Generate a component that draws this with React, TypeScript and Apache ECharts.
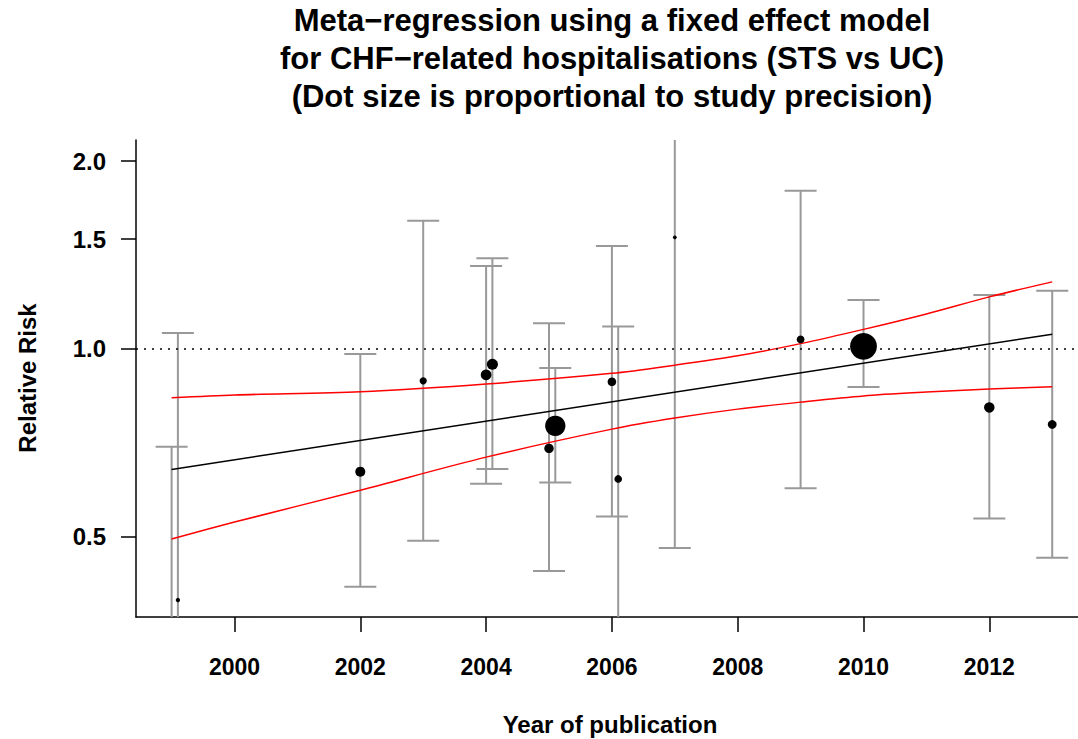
import React, { useEffect, useRef } from "react";
import * as echarts from "echarts";

// Studies (year of publication, relative risk and 95% CI)
const studyYears = [1999.1, 1999.0, 2002.0, 2003.0, 2004.0, 2004.1, 2005.0, 2005.1, 2006.0, 2006.1, 2007.0, 2009.0, 2010.0, 2012.0, 2013.0];
const studyRR = [0.396, 0.3, 0.636, 0.889, 0.909, 0.945, 0.693, 0.753, 0.886, 0.619, 1.51, 1.036, 1.01, 0.806, 0.757];
const studyLower = [0.148, 0.129, 0.416, 0.493, 0.608, 0.642, 0.441, 0.611, 0.539, 0.353, 0.48, 0.598, 0.869, 0.535, 0.463];
const studyUpper = [1.061, 0.697, 0.982, 1.605, 1.358, 1.397, 1.0995, 0.932, 1.462, 1.086, 4.75, 1.793, 1.198, 1.22, 1.24];

// Fixed-effect meta-regression fit and its confidence band
const fitYears = [1999, 2013];
const fitRR = [0.641, 1.056];
const bandYears = [1999, 2000, 2002, 2004, 2006, 2007, 2008, 2009, 2010, 2011, 2012, 2013];
const bandUpper = [0.835, 0.844, 0.854, 0.879, 0.914, 0.942, 0.975, 1.02, 1.075, 1.138, 1.212, 1.281];
const bandLower = [0.496, 0.528, 0.594, 0.671, 0.744, 0.775, 0.801, 0.822, 0.841, 0.853, 0.863, 0.87];

// Axes
const xTicks = [2000, 2002, 2004, 2006, 2008, 2010, 2012];
const yTicks = [0.5, 1.0, 1.5, 2.0];
const xMin = 1998.434;
const xMax = 2013.41;
const yMinRR = 0.372;
const yMaxRR = 2.162;

const FONT = '"Liberation Sans", Arial, Helvetica, sans-serif';

export default function App() {
  const ref = useRef<HTMLDivElement>(null);

  useEffect(() => {
    if (!ref.current) return;
    const chart = echarts.init(ref.current, null, { renderer: "svg" });

    const barData = studyYears.map((y, i) => [y, Math.log(studyLower[i]), Math.log(studyUpper[i])]);
    const pointData = studyYears.map((y, i) => [y, Math.log(studyRR[i])]);
    const fitData = fitYears.map((y, i) => [y, Math.log(fitRR[i])]);
    const upData = bandYears.map((y, i) => [y, Math.log(bandUpper[i])]);
    const loData = bandYears.map((y, i) => [y, Math.log(bandLower[i])]);

    const capHalf = 16;

    const option: any = {
      animation: false,
      backgroundColor: "#fff",
      grid: { left: 136, right: 0, top: 140, bottom: 122, containLabel: false },
      xAxis: {
        type: "value",
        min: xMin,
        max: xMax,
        axisLine: { show: true, onZero: false, lineStyle: { color: "#000", width: 1.5 } },
        axisTick: { show: true, length: 15, lineStyle: { color: "#000", width: 1.5 }, customValues: xTicks },
        axisLabel: {
          customValues: xTicks,
          margin: 38,
          color: "#000",
          fontSize: 23,
          fontWeight: "bold",
          fontFamily: FONT,
          formatter: (v: number) => String(Math.round(v)),
        },
        splitLine: { show: false },
      },
      yAxis: {
        type: "value",
        min: Math.log(yMinRR),
        max: Math.log(yMaxRR),
        axisLine: { show: true, onZero: false, lineStyle: { color: "#000", width: 1.5 } },
        axisTick: { show: true, length: 15, lineStyle: { color: "#000", width: 1.5 }, customValues: yTicks.map((t) => Math.log(t)) },
        axisLabel: {
          customValues: yTicks.map((t) => Math.log(t)),
          margin: 30,
          color: "#000",
          fontSize: 24,
          fontWeight: "bold",
          fontFamily: FONT,
          formatter: (v: number) => Math.exp(v).toFixed(1),
        },
        splitLine: { show: false },
      },
      graphic: [
        {
          type: "text",
          x: 612,
          y: 1,
          style: {
            text: "Meta\u2212regression using a fixed effect model\nfor CHF\u2212related hospitalisations (STS vs UC)\n(Dot size is proportional to study precision)",
            fill: "#000",
            fontSize: 31,
            fontWeight: "bold",
            fontFamily: FONT,
            align: "center",
            verticalAlign: "top",
            lineHeight: 38,
          },
        },
        {
          type: "text",
          x: 27,
          y: 378,
          rotation: Math.PI / 2,
          style: {
            text: "Relative Risk",
            fill: "#000",
            fontSize: 24,
            fontWeight: "bold",
            fontFamily: FONT,
            align: "center",
            verticalAlign: "middle",
          },
        },
        {
          type: "text",
          x: 610,
          y: 724,
          style: {
            text: "Year of publication",
            fill: "#000",
            fontSize: 24,
            fontWeight: "bold",
            fontFamily: FONT,
            align: "center",
            verticalAlign: "middle",
          },
        },
      ],
      series: [
        {
          type: "custom",
          name: "CI",
          data: barData,
          encode: { x: 0, y: [1, 2] },
          clip: true,
          z: 2,
          renderItem: (params: any, api: any) => {
            const x = api.value(0);
            const lo = api.value(1);
            const hi = api.value(2);
            const cs = params.coordSys;
            const top = cs.y;
            const bottom = cs.y + cs.height;
            const pLo = api.coord([x, lo]);
            const pHi = api.coord([x, hi]);
            const px = pLo[0];
            const yLo = Math.min(pLo[1], bottom);
            const yHi = Math.max(pHi[1], top);
            const style = { stroke: "#999", lineWidth: 2, fill: "none" };
            const children: any[] = [
              { type: "line", shape: { x1: px, y1: yLo, x2: px, y2: yHi }, style },
            ];
            if (pLo[1] <= bottom) {
              children.push({ type: "line", shape: { x1: px - capHalf, y1: pLo[1], x2: px + capHalf, y2: pLo[1] }, style });
            }
            if (pHi[1] >= top) {
              children.push({ type: "line", shape: { x1: px - capHalf, y1: pHi[1], x2: px + capHalf, y2: pHi[1] }, style });
            }
            return { type: "group", children };
          },
          markLine: {
            silent: true,
            symbol: "none",
            label: { show: false },
            lineStyle: { color: "#000", width: 1.5, type: [2, 6] },
            data: [{ yAxis: Math.log(1) }],
          },
        },
        {
          type: "line",
          name: "Upper",
          data: upData,
          showSymbol: false,
          smooth: 0.3,
          lineStyle: { color: "#ff0000", width: 1.5 },
          z: 3,
        },
        {
          type: "line",
          name: "Lower",
          data: loData,
          showSymbol: false,
          smooth: 0.3,
          lineStyle: { color: "#ff0000", width: 1.5 },
          z: 3,
        },
        {
          type: "line",
          name: "Fit",
          data: fitData,
          showSymbol: false,
          lineStyle: { color: "#000", width: 1.5 },
          z: 3,
        },
        {
          type: "scatter",
          name: "Studies",
          data: pointData,
          clip: true,
          symbol: "circle",
          symbolSize: (_v: any, p: any) => 8.6 / Math.log(studyUpper[p.dataIndex] / studyLower[p.dataIndex]),
          itemStyle: { color: "#000", opacity: 1 },
          z: 4,
        },
      ],
    };

    chart.setOption(option);
    return () => chart.dispose();
  }, []);

  return (
    <div
      ref={ref}
      style={{ position: "fixed", left: 0, top: 0, width: 1078, height: 739, background: "#fff" }}
    />
  );
}
